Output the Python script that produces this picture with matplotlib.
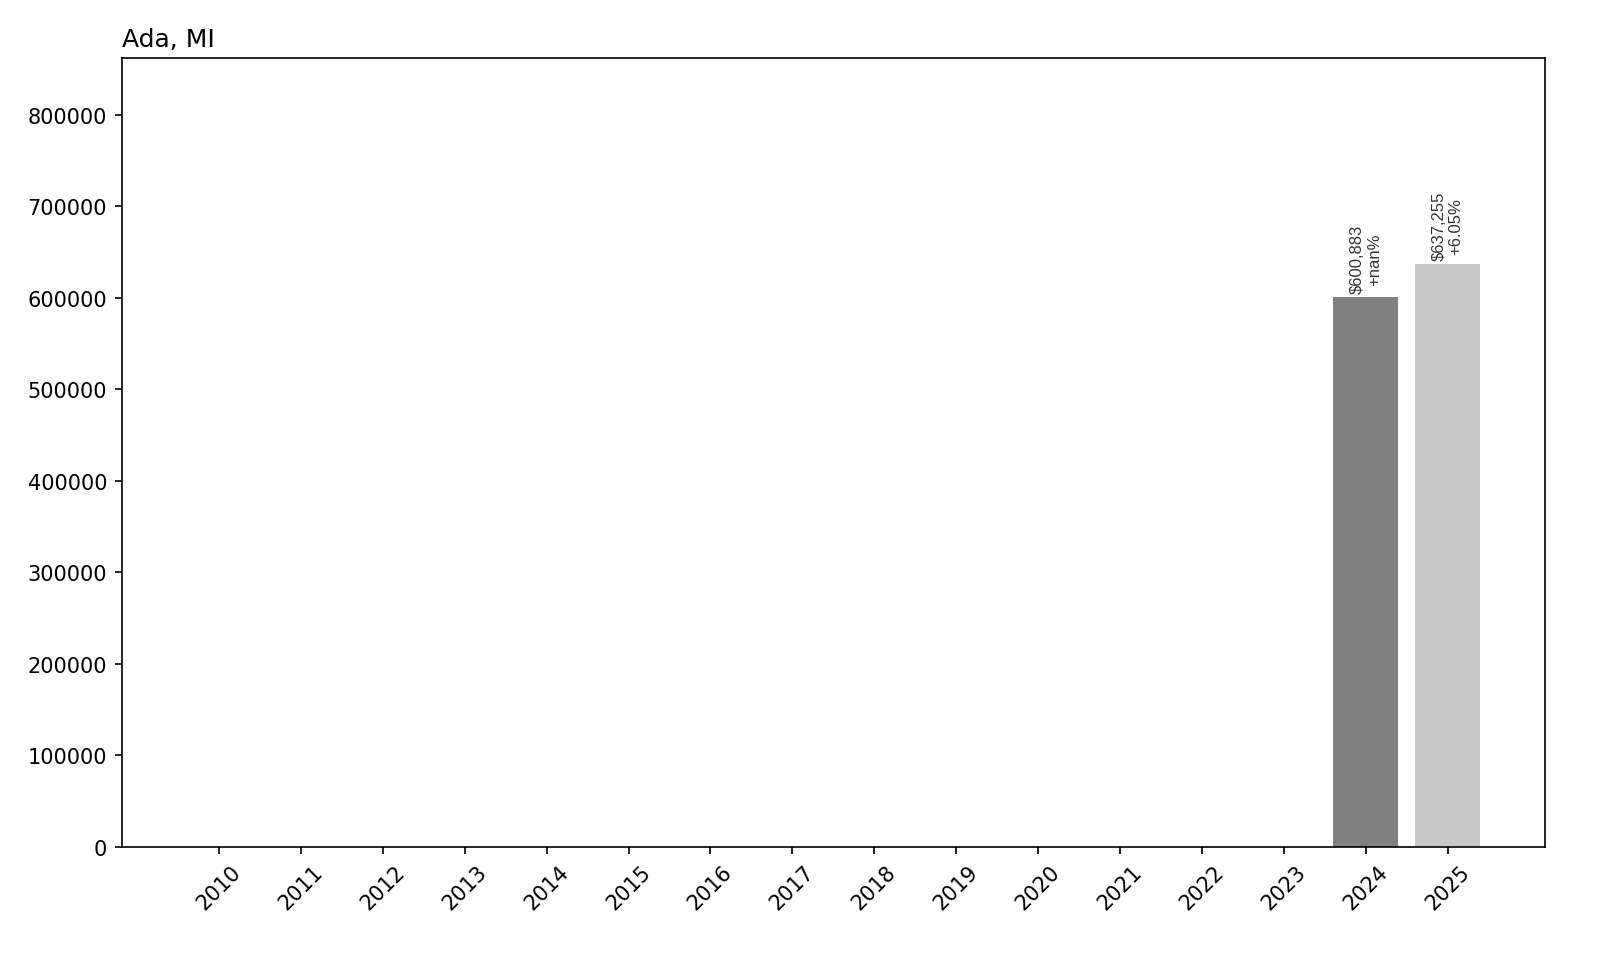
import matplotlib
matplotlib.use("Agg")
import matplotlib.pyplot as plt
import numpy as np

years = list(range(2010, 2026))
values = [0] * 14 + [600883, 637255]
labels = ["", "", "", "", "", "", "", "", "", "", "", "", "", "",
          "$600,883\n+nan%", "$637,255\n+6.05%"]
colors = ["#808080"] * 15 + ["#c8c8c8"]

fig, ax = plt.subplots(figsize=(16 / 1.5, 9.6 / 1.5), dpi=150)
fig.subplots_adjust(left=0.076, right=0.9656, top=0.9385, bottom=0.1167)

bars = ax.bar(years, values, color=colors, width=0.8)
for b, lab in zip(bars, labels):
    if lab:
        ax.text(b.get_x() + b.get_width() / 2, b.get_height() + 4000, lab,
                rotation=90, ha="center", va="bottom", fontsize=8,
                family="Liberation Sans", color="#333333")

ax.set_xticks(years)
ax.set_xticklabels([str(y) for y in years], rotation=45)
ax.set_ylim(0, max(values) * 1.353)
ax.set_title("Ada, MI", loc="left", fontsize=12)

fig.savefig("out.png")
